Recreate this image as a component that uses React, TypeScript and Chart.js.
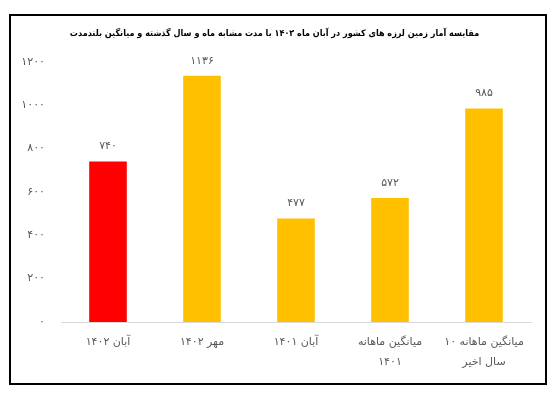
import React, { useEffect, useRef } from "react";
import { Chart, registerables } from "chart.js";

Chart.register(...registerables);

const TITLE = "مقایسه آمار زمین لرزه های کشور در آبان ماه ۱۴۰۲ با مدت مشابه ماه و سال گذشته و میانگین بلندمدت";
const categories: string[][] = [
  ["آبان ۱۴۰۲"],
  ["مهر ۱۴۰۲"],
  ["آبان ۱۴۰۱"],
  ["میانگین ماهانه", "۱۴۰۱"],
  ["میانگین ماهانه ۱۰", "سال اخیر"],
];
const values: number[] = [740, 1136, 477, 572, 985];
const barColors: string[] = ["#FF0000", "#FFC000", "#FFC000", "#FFC000", "#FFC000"];
const yMin = 0;
const yMax = 1200;
const yStep = 200;

const FA_DIGITS = "۰۱۲۳۴۵۶۷۸۹";
const toFa = (v: number | string) => String(v).replace(/[0-9]/g, (d) => FA_DIGITS[Number(d)]);

const FONT = "'DejaVu Sans', 'Noto Sans', sans-serif";
const TITLE_FONT = "'DejaVu Sans Condensed', 'DejaVu Sans', sans-serif";
const GREY = "#595959";

const valueLabels = {
  id: "valueLabels",
  afterDatasetsDraw(chart: any) {
    const ctx = chart.ctx;
    const meta = chart.getDatasetMeta(0);
    ctx.save();
    ctx.font = `11px ${FONT}`;
    ctx.fillStyle = GREY;
    ctx.textAlign = "center";
    ctx.textBaseline = "middle";
    meta.data.forEach((bar: any, i: number) => {
      ctx.fillText(toFa(values[i]), bar.x, bar.y - 15);
    });
    ctx.restore();
  },
};

export default function App() {
  const ref = useRef<HTMLCanvasElement>(null);
  useEffect(() => {
    if (!ref.current) return;
    const chart = new Chart(ref.current, {
      type: "bar",
      data: {
        labels: categories,
        datasets: [
          {
            data: values,
            backgroundColor: barColors,
            borderWidth: 0,
            barPercentage: 0.4,
            categoryPercentage: 1,
          },
        ],
      },
      options: {
        responsive: false,
        animation: false,
        layout: { padding: { left: 10, right: 20, top: 20, bottom: 11 } },
        plugins: {
          legend: { display: false },
          tooltip: { enabled: false },
          title: {
            display: true,
            text: TITLE,
            color: "#000",
            font: { family: TITLE_FONT, size: 9, weight: "bold" },
            padding: { top: 0, bottom: 23 },
          },
        },
        scales: {
          x: {
            grid: { display: false, drawTicks: false },
            border: { display: true, color: "#d9d9d9", width: 1 },
            ticks: {
              color: GREY,
              font: { family: FONT, size: 11, lineHeight: 1.8 },
              padding: 10,
              maxRotation: 0,
              autoSkip: false,
            },
            afterFit: (s: any) => {
              s.height = 56;
            },
          },
          y: {
            min: yMin,
            max: yMax,
            grid: { display: false, drawTicks: false },
            border: { display: false },
            ticks: {
              stepSize: yStep,
              color: GREY,
              font: { family: FONT, size: 11 },
              padding: 16,
              callback: (v: any) => toFa(v),
            },
            afterFit: (s: any) => {
              s.width = 43;
            },
          },
        },
      },
      plugins: [valueLabels],
    });
    return () => chart.destroy();
  }, []);
  return (
    <div style={{ position: "relative", width: 543, height: 381 }}>
      <canvas ref={ref} width={543} height={381} style={{ display: "block" }} />
      <div
        style={{
          position: "absolute",
          left: 1,
          top: 6,
          width: 538,
          height: 371,
          border: "2px solid #000",
          boxSizing: "border-box",
          pointerEvents: "none",
        }}
      />
    </div>
  );
}
